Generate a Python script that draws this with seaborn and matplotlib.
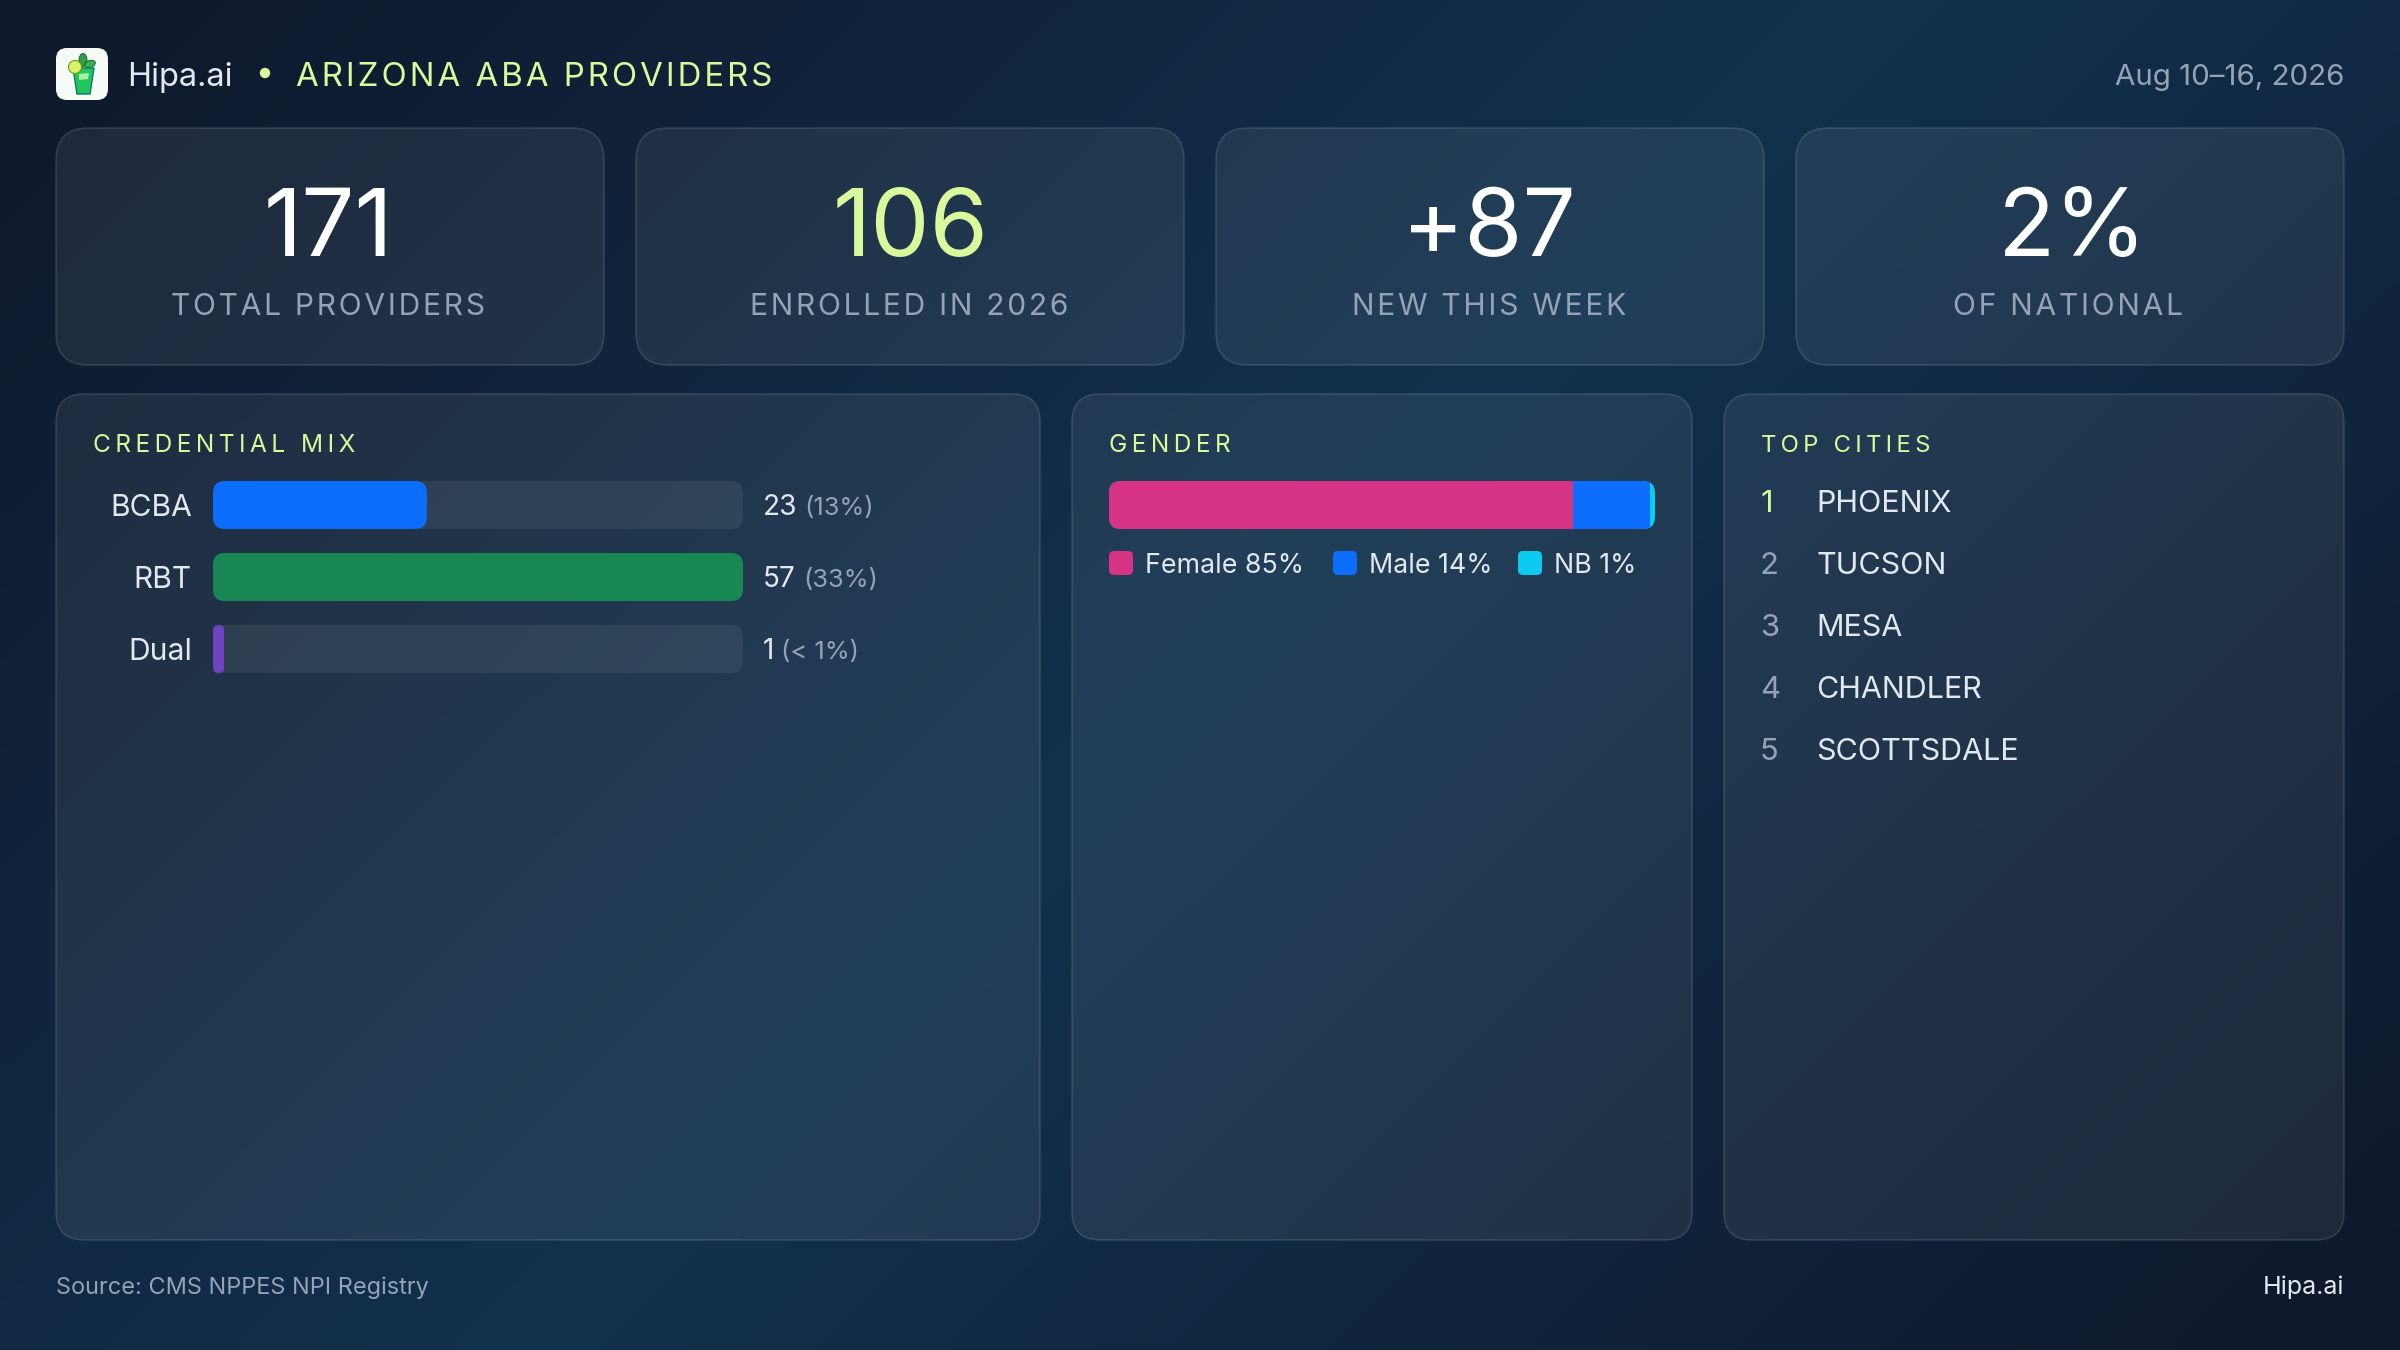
import numpy as np
import matplotlib
matplotlib.use("Agg")
import matplotlib.pyplot as plt
import seaborn as sns
from matplotlib.patches import FancyBboxPatch, Circle, Polygon, Ellipse
from matplotlib.colors import LinearSegmentedColormap
from matplotlib.transforms import IdentityTransform

# ---------- data ----------
kpi_values = ["171", "106", "+87", "2%"]
kpi_labels = ["TOTAL PROVIDERS", "ENROLLED IN 2026", "NEW THIS WEEK", "OF NATIONAL"]
cred_names = ["BCBA", "RBT", "Dual"]
cred_counts = [23, 57, 1]
cred_pcts = ["(13%)", "(33%)", "(< 1%)"]
cred_colors = ["#0d6efd", "#198754", "#6f42c1"]
gender_names = ["Female", "Male", "NB"]
gender_pcts = [85, 14, 1]
gender_colors = ["#d63384", "#0d6efd", "#0dcaf0"]
cities = ["PHOENIX", "TUCSON", "MESA", "CHANDLER", "SCOTTSDALE"]

LIME = "#d9f99d"
LIGHT = "#e2e8f0"
MUTED = "#94a3b8"

sns.set_theme(style="dark")
plt.rcParams["font.family"] = ["Inter", "DejaVu Sans"]

W, H, DPI = 2400, 1350, 100
fig = plt.figure(figsize=(W / DPI, H / DPI), dpi=DPI)
px = lambda p: p * 72 / DPI
HAIR = "\u200a"


def track(s, n=1):
    return (HAIR * n).join(s)


# ---------- page background ----------
bg = fig.add_axes([0, 0, 1, 1], zorder=0)
yy, xx = np.mgrid[0:H:135j, 0:W:240j]
t = 0.5 + ((xx - W / 2) + (yy - H / 2)) / (W + H)
cmap = LinearSegmentedColormap.from_list("page", ["#0f172a", "#12314d", "#0f172a"])
bg.imshow(t, cmap=cmap, vmin=0, vmax=1, extent=[0, W, H, 0], aspect="auto",
          interpolation="bilinear", zorder=0)
bg.set_xlim(0, W)
bg.set_ylim(H, 0)
bg.axis("off")


def box(x0, y0, x1, y1, r, fc="white", alpha=0.07, edge=True):
    bg.add_patch(FancyBboxPatch((x0, y0), x1 - x0, y1 - y0,
                                boxstyle=f"round,pad=0,rounding_size={r}",
                                fc=(1, 1, 1, alpha) if fc == "white" else fc,
                                ec=(1, 1, 1, 0.13) if edge else "none",
                                lw=px(1.6) if edge else 0, zorder=1))


def say(x, y, s, size, color, ha="left", **kw):
    return bg.text(x, y, s, fontsize=px(size), color=color, ha=ha, va="baseline", zorder=5, **kw)


# ---------- header ----------
box(56, 48, 108, 100, 11, fc="#f7fbf6", edge=False)
bg.add_patch(Ellipse((83, 60), 8, 13, fc="#2f9e44", ec="#14532d", lw=0.6, zorder=2))
bg.add_patch(Ellipse((90, 64), 11, 7, angle=-20, fc="#37b24d", ec="#14532d", lw=0.6, zorder=2))
bg.add_patch(Polygon([(73, 68), (94, 68), (90, 94), (77, 94)], closed=True,
                     fc="#22c55e", ec="#0f766e", lw=1.0, zorder=2))
bg.add_patch(Polygon([(79, 74), (89, 73), (88, 79), (79, 80)], closed=True,
                     fc="#a7f3a0", ec="none", zorder=3))
bg.add_patch(Circle((75, 67), 6.5, fc="#d9f26b", ec="#65a30d", lw=0.8, zorder=3))
say(127.5, 86, "Hipa.ai", 32.5, LIGHT)
bg.add_patch(Circle((265, 73), 5.2, fc=LIME, ec="none", zorder=5))
say(296, 86, track("ARIZONA ABA PROVIDERS", 1), 33, LIME)
say(2344, 85, "Aug 10–16, 2026", 29.5, MUTED, ha="right")

# ---------- KPI cards ----------
card_x = [56, 636, 1216, 1796]
number_center = [272, 275, 273, 277]
label_center = [272, 273, 273, 272]
for i, (v, l) in enumerate(zip(kpi_values, kpi_labels)):
    x0 = card_x[i]
    box(x0, 128, x0 + 548, 365, 32)
    say(x0 + number_center[i], 256, v, 94, LIME if i == 1 else "white", ha="center")
    say(x0 + label_center[i], 315, track(l, 1), 30, MUTED, ha="center")

# ---------- panels ----------
panels = [(56, 1040), (1072, 1692), (1724, 2344)]
for x0, x1 in panels:
    box(x0, 394, x1, 1240, 28)
say(93, 452.5, track("CREDENTIAL MIX", 2), 24.5, LIME)
say(1109, 452.5, track("GENDER", 2), 24.5, LIME)
say(1761, 452.5, track("TOP CITIES", 2), 24, LIME)


def inset(x0, y0, x1, y1):
    ax = fig.add_axes([x0 / W, 1 - y1 / H, (x1 - x0) / W, (y1 - y0) / H], zorder=3)
    ax.patch.set_visible(False)
    sns.despine(ax=ax, left=True, bottom=True)
    return ax


def round_bars(ax, patches, r=12):
    """Clip each bar to a rounded box, the way the CSS radius does."""
    for p in patches:
        (a, b), (c, d) = ax.transData.transform([(p.get_x(), p.get_y()),
                                                 (p.get_x() + p.get_width(),
                                                  p.get_y() + p.get_height())])
        lo, hi = min(b, d), max(b, d)
        rr = min(r, (c - a) / 2)
        clip = FancyBboxPatch((a, lo), c - a, hi - lo,
                              boxstyle=f"round,pad=0,rounding_size={rr}",
                              transform=IdentityTransform())
        p.set_clip_path(clip)


# ---------- credential bars ----------
ax1 = inset(213, 469, 743, 685)
track_vals = [max(cred_counts)] * len(cred_counts)
sns.barplot(x=track_vals, y=cred_names, color="white", alpha=0.07, saturation=1,
            width=2 / 3, orient="h", linewidth=0, ax=ax1)
# a CSS min-width keeps the smallest bar visible
shown = [max(c, 0.0215 * max(cred_counts)) for c in cred_counts]
sns.barplot(x=shown, y=cred_names, hue=cred_names, palette=cred_colors, saturation=1,
            width=2 / 3, orient="h", dodge=False, legend=False, linewidth=0, ax=ax1)
ax1.set_xlim(0, max(cred_counts))
ax1.set_ylim(2.5, -0.5)
ax1.set_xlabel("")
ax1.set_ylabel("")
ax1.set_xticks([])
ax1.grid(False)
ax1.tick_params(axis="y", left=False, length=0, pad=px(21), labelsize=px(30), labelcolor=LIGHT)
round_bars(ax1, ax1.patches)

renderer = fig.canvas.get_renderer()
for i, (c, pc) in enumerate(zip(cred_counts, cred_pcts)):
    y = 481 + 24 + 72 * i + 10
    tx = say(763, y, str(c), 28, LIGHT)
    end = tx.get_window_extent(renderer).x1
    say(end + 7, y, pc, 25.5, MUTED)

# ---------- gender stacked bar ----------
ax2 = inset(1109, 469, 1655, 541)
cum = np.cumsum(gender_pcts)
for val, col in zip(cum[::-1], gender_colors[::-1]):
    sns.barplot(x=[val], y=["Gender"], color=col, saturation=1, width=2 / 3, orient="h",
                linewidth=0, ax=ax2)
ax2.set_xlim(0, 100)
ax2.set_ylim(0.5, -0.5)
ax2.axis("off")
full = ax2.patches[0]
(a, b), (c, d) = ax2.transData.transform([(0, full.get_y()), (100, full.get_y() + full.get_height())])
for p in ax2.patches:
    p.set_clip_path(FancyBboxPatch((a, min(b, d)), c - a, abs(d - b),
                                   boxstyle="round,pad=0,rounding_size=12",
                                   transform=IdentityTransform()))

swatch_x = [1109, 1333, 1518]
for sx, n, pct, col in zip(swatch_x, gender_names, gender_pcts, gender_colors):
    box(sx, 551, sx + 24, 575, 5, fc=col, edge=False)
    say(sx + 36, 573, f"{n} {pct}%", 26.8, LIGHT)

# ---------- top cities ----------
for i, city in enumerate(cities):
    y = 512.5 + 62 * i
    say(1760, y, str(i + 1), 31, LIME if i == 0 else MUTED)
    say(1816, y, city, 30.5, LIGHT)

# ---------- footer ----------
say(56, 1294, "Source: CMS NPPES NPI Registry", 23.5, MUTED)
say(2344, 1294, "Hipa.ai", 25, LIGHT, ha="right")

fig.savefig("out.png", dpi=DPI)
